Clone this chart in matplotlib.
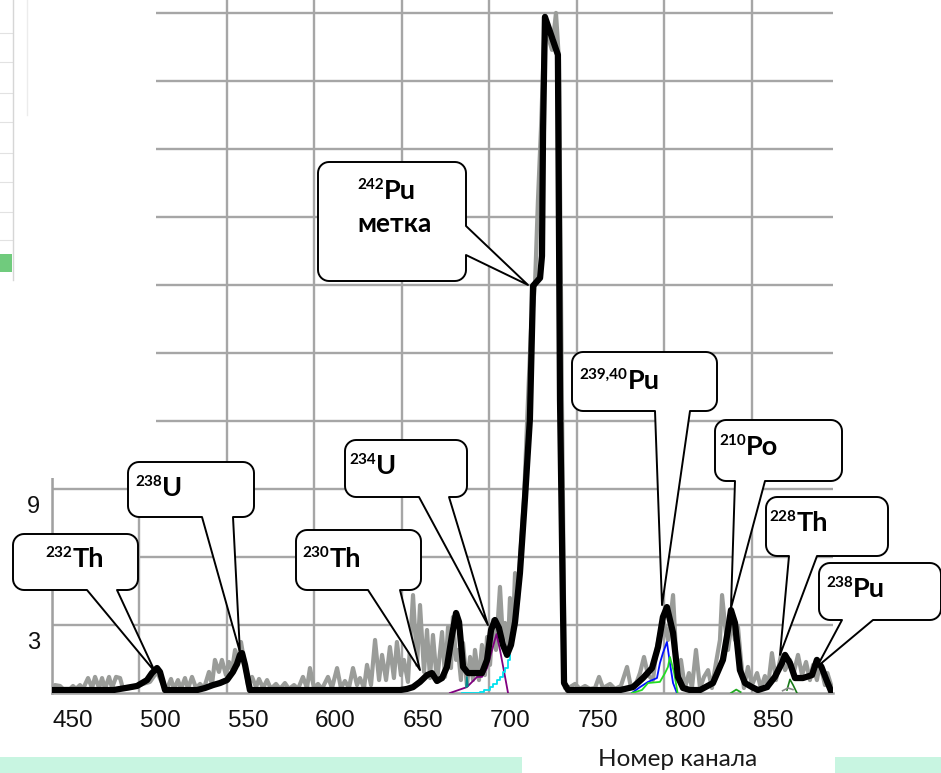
import matplotlib
matplotlib.use("Agg")
import matplotlib.pyplot as plt
import matplotlib.transforms as mtransforms
from matplotlib.patches import Polygon, Rectangle
from matplotlib.lines import Line2D
import numpy as np

# ---------------- data (channel, counts) ----------------
x_tick_values = [450, 500, 550, 600, 650, 700, 750, 800, 850]
y_tick_values = [3, 6, 9, 12, 15, 18, 21, 24, 27, 30]

gray_ch = [438.0, 439.7, 442.6, 444.3, 448.3, 450.0, 451.7, 454.0, 455.7, 458.6,
           460.9, 462.6, 464.9, 466.6, 468.3, 470.6, 472.3, 474.6, 476.9, 478.6,
           482.6, 486.6, 490.0, 494.0, 498.0, 501.4, 503.7, 506.0, 507.7, 510.0,
           511.7, 514.0, 515.7, 518.0, 520.3, 522.6, 524.9, 527.7, 529.4, 531.1,
           533.4, 535.1, 537.4, 539.1, 540.9, 542.6, 544.3, 546.0, 547.7, 550.0,
           552.3, 554.6, 556.3, 558.6, 560.9, 563.1, 566.0, 568.3, 571.1, 573.4,
           576.3, 578.6, 581.4, 583.7, 585.4, 587.7, 590.0, 592.3, 595.7, 598.0,
           600.9, 603.1, 605.4, 607.7, 610.0, 612.3, 614.0, 616.3, 618.0, 620.3,
           622.6, 624.9, 626.6, 628.9, 631.1, 633.4, 635.1, 637.4, 639.1, 641.4,
           644.3, 646.6, 648.3, 650.6, 652.3, 654.0, 655.7, 658.0, 660.9, 662.6,
           664.3, 666.0, 667.1, 668.9, 670.0, 671.7, 672.9, 675.1, 676.9, 678.6,
           679.7, 682.0, 683.7, 685.4, 686.6, 688.3, 690.0, 691.7, 694.0, 695.7,
           696.9, 698.6, 699.7, 701.4, 702.6, 704.3, 705.4, 707.7, 710.0, 711.7,
           714.0, 715.7, 717.4, 719.7, 722.0, 723.7, 726.0, 727.7, 729.4, 731.1,
           734.0, 736.9, 739.7, 742.6, 745.4, 748.3, 750.6, 752.9, 756.9, 759.7,
           763.1, 766.6, 768.9, 771.7, 774.0, 776.3, 778.6, 781.4, 783.7, 786.0,
           787.7, 790.0, 792.9, 795.1, 797.4, 799.7, 802.0, 803.7, 806.0, 808.3,
           810.6, 812.9, 815.1, 817.4, 819.7, 820.9, 822.6, 824.3, 826.6, 828.3,
           830.0, 831.7, 833.4, 835.7, 838.0, 840.9, 843.1, 845.4, 847.1, 849.4,
           851.7, 854.6, 856.9, 859.7, 862.0, 864.3, 866.6, 868.9, 871.1, 872.9,
           875.1, 876.9, 879.7, 881.1, 883.7]
gray_cnt = [0.18, 0.35, 0.31, 0.18, 0.18, 0.31, 0.18, 0.35, 0.18, 0.66,
            0.22, 0.71, 0.22, 0.66, 0.18, 0.71, 0.22, 0.71, 0.66, 0.18,
            0.22, 0.31, 0.40, 0.49, 0.93, 0.35, 0.18, 0.62, 0.18, 0.57,
            0.18, 0.66, 0.18, 0.71, 0.22, 0.40, 0.22, 0.93, 0.35, 1.46,
            0.93, 1.46, 0.79, 1.37, 1.01, 1.90, 1.24, 2.25, 1.46, 0.35,
            0.71, 0.26, 0.62, 0.22, 0.57, 0.18, 0.40, 0.18, 0.44, 0.18,
            0.35, 0.18, 0.71, 0.22, 1.10, 0.22, 0.40, 0.18, 0.71, 0.22,
            1.10, 0.22, 0.53, 0.22, 1.10, 0.35, 0.66, 0.22, 1.24, 0.35,
            2.34, 0.57, 1.68, 0.57, 2.03, 0.66, 2.25, 0.79, 1.46, 0.49,
            4.32, 1.24, 3.88, 0.93, 2.78, 0.66, 2.56, 0.49, 2.69, 0.71,
            2.91, 1.10, 3.35, 1.46, 1.90, 0.57, 2.21, 0.35, 1.59, 0.57,
            1.90, 0.57, 2.12, 0.79, 2.47, 1.24, 3.22, 1.90, 4.68, 2.34,
            3.09, 2.12, 4.19, 2.78, 5.29, 4.10, 5.87, 8.51, 12.93, 16.01,
            18.00, 21.75, 24.84, 29.91, 28.81, 28.37, 30.00, 27.93, 12.93, 0.22,
            0.26, 0.40, 0.18, 0.31, 0.18, 0.22, 0.71, 0.22, 0.40, 0.18,
            0.31, 1.15, 0.22, 0.40, 0.88, 1.59, 0.79, 0.57, 2.03, 2.87,
            3.09, 2.34, 4.32, 1.01, 1.46, 0.22, 0.88, 0.22, 1.90, 0.22,
            0.71, 1.01, 0.22, 1.32, 2.34, 4.32, 3.00, 1.90, 3.22, 2.34,
            2.91, 1.46, 0.22, 1.15, 0.35, 0.88, 0.22, 0.75, 0.22, 1.76,
            0.57, 1.68, 1.01, 1.46, 0.93, 1.68, 0.79, 1.37, 0.57, 1.24,
            0.57, 1.32, 0.35, 0.88, 0.22]

black_ch = [438.0, 473.1, 480.0, 486.6, 492.3, 495.1, 498.0, 499.7, 502.6, 520.9,
            525.4, 530.0, 534.0, 538.0, 541.4, 543.7, 545.4, 546.6, 548.3, 551.1,
            636.9, 640.9, 644.3, 648.3, 652.3, 655.1, 658.0, 660.9, 663.7, 666.6,
            668.9, 670.6, 672.9, 675.7, 683.7, 686.6, 688.9, 691.1, 693.4, 695.7,
            698.0, 700.3, 702.6, 705.4, 708.3, 711.1, 712.9, 716.9, 718.0, 718.6,
            719.7, 727.1, 728.3, 730.6, 732.9, 762.6, 770.0, 775.7, 780.9, 784.3,
            787.1, 789.4, 792.9, 795.7, 798.6, 802.6, 808.3, 815.7, 821.4, 824.3,
            826.0, 828.3, 831.1, 834.0, 838.0, 841.4, 846.6, 851.1, 855.1, 856.9,
            859.7, 862.6, 867.1, 872.3, 875.1, 877.7, 880.6, 883.4]
black_cnt = [0.13, 0.13, 0.22, 0.31, 0.57, 0.88, 1.10, 0.93, 0.13, 0.13,
             0.22, 0.35, 0.44, 0.57, 0.93, 1.28, 1.68, 1.76, 1.24, 0.13,
             0.13, 0.18, 0.26, 0.49, 0.79, 0.88, 0.53, 0.66, 1.15, 2.56,
             3.53, 3.13, 1.15, 0.88, 0.88, 1.46, 2.78, 3.22, 2.87, 2.12,
             1.68, 2.12, 3.13, 5.29, 8.60, 12.09, 17.96, 18.31, 19.28, 24.75,
             29.82, 28.15, 12.93, 0.44, 0.13, 0.13, 0.26, 0.66, 1.10, 2.03,
             3.35, 3.79, 2.65, 0.71, 0.22, 0.13, 0.13, 0.44, 1.46, 2.78,
             3.66, 3.09, 1.01, 0.44, 0.26, 0.13, 0.26, 0.71, 1.32, 1.68,
             1.32, 0.66, 0.66, 0.79, 1.46, 1.15, 0.57, 0.04]

purple_ch = [665.4, 675.1, 680.9, 683.7, 686.6, 692.0, 694.0, 696.9, 698.6]
purple_cnt = [0.0, 0.26, 0.71, 0.71, 1.10, 2.60, 1.90, 0.71, 0.0]
cyan_ch = [672.3, 682.6, 685.0, 688.3, 690.0, 692.3, 694.0, 695.7, 697.0, 698.6, 699.7]
cyan_cnt = [0.0, 0.04, 0.13, 0.26, 0.40, 0.57, 0.71, 0.93, 1.10, 1.46, 1.68]
teal_ch = [674.6, 675.1, 675.6]
teal_cnt = [0.26, 0.71, 0.30]
blue_ch = [769.4, 774.0, 778.6, 783.7, 785.4, 787.1, 789.4, 791.1, 792.9, 795.1]
blue_cnt = [0.0, 0.26, 0.49, 0.66, 1.32, 1.76, 2.25, 1.32, 0.44, 0.0]
green_ch = [769.4, 775.1, 778.6, 785.4, 788.3, 790.0, 791.1, 793.5, 795.5]
green_cnt = [0.0, 0.13, 0.44, 0.49, 0.88, 1.15, 1.59, 0.90, 0.0]
green2_ch = [826.0, 829.0, 831.5]
green2_cnt = [0.0, 0.15, 0.04]
dkgreen_ch = [858.0, 859.7, 861.5, 863.7]
dkgreen_cnt = [0.13, 0.60, 0.35, 0.0]
gray2_ch = [855.5, 858.6, 861.4]
gray2_cnt = [0.10, 0.22, 0.15]

# callouts: (sup, main, box in figure px [x0, y0, x1, y1], wedge side, wedge base, tip (channel, counts), text x, baseline)
callouts = [
    ("232", "Th", (13, 534, 138, 590), "bottom", (87, 117), (496.9, 0.93), 45, 567),
    ("238", "U", (128, 462, 254, 517), "bottom", (202, 233), (545.4, 1.81), 135, 496),
    ("230", "Th", (296, 530, 421, 590), "bottom", (368, 400), (648.3, 1.01), 302, 567),
    ("234", "U", (345, 440, 467, 497), "bottom", (419, 449), (687.1, 3.00), 349, 474),
    ("242", "Pu", (318, 162, 466, 281), "right", (226, 255), (710.0, 18.0), 357, 199),
    ("239,40", "Pu", (572, 352, 717, 411), "bottom", (655, 690), (786.6, 3.88), 579, 389),
    ("210", "Po", (715, 420, 842, 481), "bottom", (735, 765), (826.0, 3.75), 719, 455),
    ("228", "Th", (766, 497, 888, 556), "bottom", (789, 817), (854.0, 1.68), 769, 531),
    ("238", "Pu", (819, 563, 941, 620), "bottom", (842, 873), (875.1, 1.15), 826, 597),
]
marker_word = "метка"
x_title = "Номер канала"

# ---------------- figure ----------------
W, H = 941, 773
fig = plt.figure(figsize=(W / 100, H / 100), dpi=100)
fig.patch.set_facecolor("white")
ax = fig.add_axes([52 / W, 80 / H, 781 / W, 693 / H])
ax.set_facecolor("white")

GRID = "#a6a6a6"
ax.plot(gray_ch, gray_cnt, color="#9a9c99", lw=3.0, solid_joinstyle="round", zorder=2)
ax.plot(purple_ch, purple_cnt, color="#800080", lw=1.3, zorder=3)
ax.plot(cyan_ch, cyan_cnt, color="#00e0ee", lw=1.3, zorder=3, drawstyle="steps-post")
ax.plot(teal_ch, teal_cnt, color="#008b8b", lw=1.2, zorder=3)
ax.plot(blue_ch, blue_cnt, color="#0010ff", lw=1.3, zorder=3)
ax.plot(green_ch, green_cnt, color="#22dd22", lw=1.3, zorder=3)
ax.plot(green2_ch, green2_cnt, color="#22aa22", lw=1.3, zorder=3)
ax.plot(dkgreen_ch, dkgreen_cnt, color="#1a7a1a", lw=1.2, zorder=3)
ax.plot(gray2_ch, gray2_cnt, color="#888888", lw=1.2, zorder=3)
ax.plot(black_ch, black_cnt, color="black", lw=4.5, solid_joinstyle="round",
        solid_capstyle="round", zorder=4)

ax.set_xlim(438, 884.3)
ax.set_ylim(0, 30.57)
ax.set_xticks(x_tick_values)
ax.set_xticklabels([str(v) for v in x_tick_values], fontsize=17.5, family="Liberation Sans",
                   color="#111111")
ax.set_xticks(np.arange(438, 884, 50), minor=True)
ax.set_yticks(y_tick_values)
ax.set_yticklabels([])
ax.tick_params(axis="both", which="both", length=0)
ax.tick_params(axis="x", pad=12)
ax.xaxis.grid(True, which="minor", color=GRID, lw=1.7)
ax.xaxis.grid(False, which="major")
ax.yaxis.grid(True, which="major", color=GRID, lw=1.7)
ax.set_axisbelow(True)
for s in ["top", "right"]:
    ax.spines[s].set_visible(False)
for s in ["left", "bottom"]:
    ax.spines[s].set_color("#a0a0a0")
    ax.spines[s].set_linewidth(1.8)

# y tick labels (drawn slightly below their gridlines as in the reference)
ylab_tr = mtransforms.blended_transform_factory(ax.transAxes, ax.transData) + \
    mtransforms.ScaledTranslation(-12 / 100, -18 / 100, fig.dpi_scale_trans)
for v in y_tick_values:
    ax.text(0, v, str(v), transform=ylab_tr, ha="right", va="center",
            fontsize=17, family="Liberation Sans", color="#111111")

# white cover over top-left corner (screenshot overlap) and fragment of a neighbour chart
fig.add_artist(Rectangle((0, 1 - 478 / H), 156 / W, 478 / H, transform=fig.transFigure,
                         facecolor="white", edgecolor="none", zorder=5))
for yy in [33, 62, 93, 122, 153, 182, 212, 240]:
    fig.add_artist(Line2D([0, 12 / W], [1 - yy / H] * 2, transform=fig.transFigure,
                          color="#e2e2e2", lw=0.8, zorder=6))
fig.add_artist(Line2D([13 / W] * 2, [1, 1 - 280 / H], transform=fig.transFigure,
                      color="#d6d6d6", lw=1.0, zorder=6))
fig.add_artist(Line2D([27 / W] * 2, [1, 1 - 115 / H], transform=fig.transFigure,
                      color="#ececec", lw=1.0, zorder=6))
fig.add_artist(Rectangle((0, 1 - 272 / H), 12 / W, 18 / H, transform=fig.transFigure,
                         facecolor="#4cbf5c", edgecolor="none", alpha=0.8, zorder=6))

# ---------------- callouts ----------------
FONT = ["Lato", "Open Sans", "DejaVu Sans"]
renderer = fig.canvas.get_renderer()


def to_fig(pts):
    return [(x / W, 1 - y / H) for x, y in pts]


def data_to_px(ch, v):
    dx, dy = ax.transData.transform((ch, v))
    return dx * W / fig.bbox.width, H - dy * H / fig.bbox.height


def callout_poly(box, side, base, tip, r=11):
    x0, y0, x1, y1 = box
    pts = []

    def arc(cx, cy, a0, a1):
        for a in np.radians(np.linspace(a0, a1, 9)):
            pts.append((cx + r * np.cos(a), cy + r * np.sin(a)))

    pts.append((x0 + r, y0))
    arc(x1 - r, y0 + r, -90, 0)
    if side == "right":
        pts.extend([(x1, base[0]), tip, (x1, base[1])])
    arc(x1 - r, y1 - r, 0, 90)
    if side == "bottom":
        pts.extend([(base[1], y1), tip, (base[0], y1)])
    arc(x0 + r, y1 - r, 90, 180)
    arc(x0 + r, y0 + r, 180, 270)
    return pts


def iso_text(x, base_y, sup, main):
    t1 = fig.text(x / W, 1 - (base_y - 10) / H, sup, fontsize=11, fontweight="bold",
                  family=FONT, ha="left", va="baseline", zorder=11)
    w = t1.get_window_extent(renderer).width
    fig.text((x + w + 0.5) / W, 1 - base_y / H, main, fontsize=19.5, fontweight="bold",
             family=FONT, ha="left", va="baseline", zorder=11)


for sup, main, box, side, base, tip, tx, tb in callouts:
    tip_px = data_to_px(*tip)
    poly = Polygon(to_fig(callout_poly(box, side, base, tip_px)), closed=True,
                   transform=fig.transFigure, facecolor="white", edgecolor="black",
                   lw=1.4, joinstyle="round", zorder=10)
    fig.add_artist(poly)
    iso_text(tx, tb, sup, main)

fig.text(357 / W, 1 - 232 / H, marker_word, fontsize=19, fontweight="bold", family=FONT,
         ha="left", va="baseline", zorder=11)

# ---------------- bottom strip and axis title ----------------
fig.add_artist(Rectangle((0, 0), 522 / W, 16 / H, transform=fig.transFigure,
                         facecolor="#c8f5e1", edgecolor="none", zorder=1))
fig.add_artist(Rectangle((835 / W, 0), 106 / W, 16 / H, transform=fig.transFigure,
                         facecolor="#c8f5e1", edgecolor="none", zorder=1))
fig.text(678 / W, 1 - 760 / H, x_title, fontsize=17.5, family=FONT,
         ha="center", va="center", color="#1a1a1a", zorder=11)

fig.savefig("out.png", dpi=100)
